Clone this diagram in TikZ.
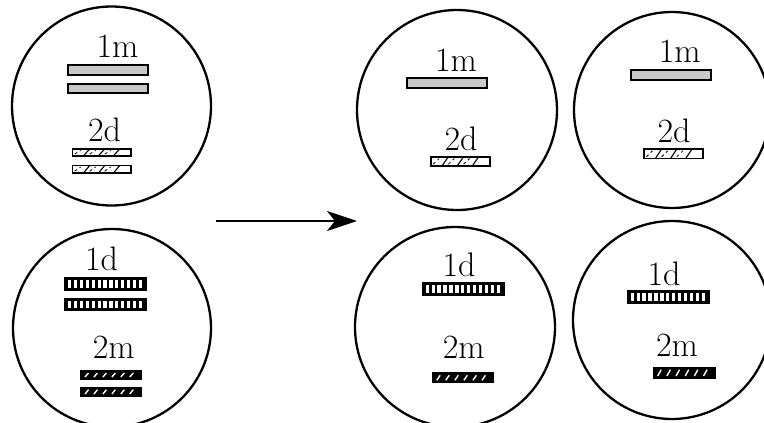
\documentclass[tikz,border=0pt]{standalone}
\usetikzlibrary{arrows.meta}
\definecolor{barGray}{RGB}{200,200,200}
\tikzset{
  ring/.style={circle, draw=black, line width=2.3pt, inner sep=0pt},
  lab/.style={anchor=base, inner sep=0pt, font=\fontsize{34}{40}\selectfont},
}
\newcommand\myBarGray[4]{\draw[line width=2pt, fill=barGray] (#1+1,#2+1) rectangle (#3-1,#4-1);}
\newcommand\myBarHatch[4]{%
  \draw[line width=1.6pt, fill=white] (#1+0.8,#2+0.8) rectangle (#3-0.8,#4-0.8);
  \foreach \k in {1,2,3}{%
    \pgfmathsetmacro\xa{#1+(#3-#1)*\k/4-3}%
    \draw[line width=1.1pt] (\xa,#4-1) -- (\xa+6,#2+1);
    \draw[line width=0.8pt, dash pattern=on 3pt off 3pt] (\xa-9,#4-2.5) -- (\xa-3,#2+2.5);
  }}
\newcommand\myBarSlit[4]{%
  \fill[black] (#1,#2) rectangle (#3,#4);
  \foreach \k in {0,...,12}{%
    \pgfmathsetmacro\xa{#1+3+\k*(#3-#1-6)/13+0.9}%
    \fill[white] (\xa,#2+2.8) rectangle (\xa+3.2,#4-2.8);
  }}
\newcommand\myBarSlash[4]{%
  \fill[black] (#1,#2) rectangle (#3,#4);
  \foreach \k in {0,...,5}{%
    \pgfmathsetmacro\xa{#1+5+\k*(#3-#1-8)/6}%
    \draw[white, line width=1.4pt] (\xa,#4-3) -- (\xa+3.5,#2+3);
  }}
\begin{document}
\begin{tikzpicture}[x=1pt,y=-1pt]
\useasboundingbox (0,0) rectangle (764,423);
\clip (0,0) rectangle (764,423);
% circles
\node[ring, minimum size=199pt] (c1) at (111.5,106) {};
\node[ring, minimum size=198pt] (c2) at (112,328) {};
\node[ring, minimum size=200pt] (c3) at (457,110) {};
\node[ring, minimum size=196pt] (c4) at (672,110) {};
\node[ring, minimum size=200pt] (c5) at (455,327) {};
\node[ring, minimum size=198pt] (c6) at (672,320) {};
% top-left
\node[lab] (t1) at (117.5,57) {1m};
\myBarGray{67}{64.3}{149}{75.7}
\myBarGray{67}{82.7}{149}{94}
\node[lab] (t2) at (104.5,141.7) {2d};
\myBarHatch{71.7}{148}{131.7}{156.5}
\myBarHatch{71.7}{164.5}{131.7}{173.7}
% bottom-left
\node[lab] (t3) at (101.5,270.7) {1d};
\myBarSlit{64}{277}{147}{290.7}
\myBarSlit{64}{298}{147}{310.7}
\node[lab] (t4) at (113.7,358) {2m};
\myBarSlash{80}{370}{141.7}{380}
\myBarSlash{80}{386.7}{141.7}{397}
% top-middle
\node[lab] (t5) at (456,71) {1m};
\myBarGray{406}{77.3}{487.7}{89.3}
\node[lab] (t6) at (461,150) {2d};
\myBarHatch{430}{156}{490.7}{166.7}
% top-right
\node[lab] (t7) at (679.7,62.7) {1m};
\myBarGray{630}{69}{711.7}{81}
\node[lab] (t8) at (674,142.7) {2d};
\myBarHatch{643.3}{148.3}{704}{159.3}
% bottom-middle
\node[lab] (t9) at (459,276.7) {1d};
\myBarSlit{421.7}{282.3}{505}{295.7}
\node[lab] (t10) at (463.7,358.3) {2m};
\myBarSlash{431.7}{372.3}{494}{383.3}
% bottom-right
\node[lab] (t11) at (664,285) {1d};
\myBarSlit{626.7}{290}{710}{304}
\node[lab] (t12) at (677,356) {2m};
\myBarSlash{652.7}{366.7}{715.7}{379}
% arrow
\coordinate (a1) at (216,221);
\coordinate (a2) at (357,221);
\draw[line width=2pt, -{Stealth[length=30pt, width=20pt, inset=8pt]}] (a1) -- (a2);
\end{tikzpicture}
\end{document}
